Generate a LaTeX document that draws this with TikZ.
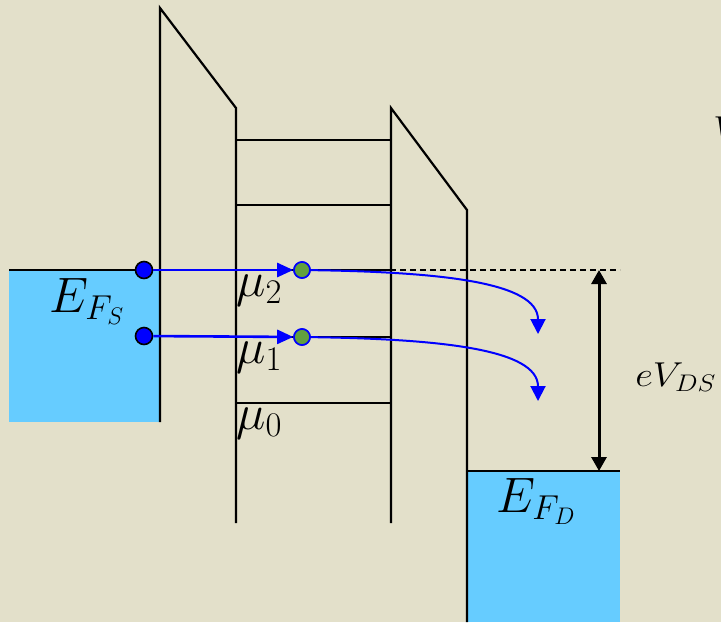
\documentclass[tikz,border=0pt]{standalone}
\usetikzlibrary{arrows.meta}
\definecolor{bgc}{RGB}{227,224,202}
\definecolor{resv}{RGB}{102,204,255}
\definecolor{dotgreen}{RGB}{98,160,62}
\begin{document}
\begin{tikzpicture}[x=0.5pt,y=-0.5pt,
  wall/.style={line width=1.1pt, black, line join=miter},
  level/.style={line width=1.1pt, black},
  fermi/.style={black, line width=1.1pt, dashed, dash pattern=on 3pt off 2pt},
  electron/.style={circle, fill=blue, draw=black, line width=0.8pt, minimum size=8.5pt, inner sep=0pt},
  state/.style={circle, fill=dotgreen, draw=blue, line width=0.8pt, minimum size=8pt, inner sep=0pt},
  hop/.style={blue, line width=1.3pt, -{Triangle[length=8pt,width=7pt]}},
  leak/.style={blue, line width=1pt, -{Triangle[length=7.5pt,width=7.5pt]}},
  bias/.style={black, line width=1.5pt, {Triangle[length=7pt,width=7.5pt]}-{Triangle[length=7pt,width=7.5pt]}},
  lbl/.style={inner sep=0pt, anchor=base west, font=\fontsize{24}{28}\selectfont},
  slbl/.style={inner sep=0pt, anchor=base west, font=\fontsize{17.28}{20}\selectfont},
]
\useasboundingbox (0,0) rectangle (721,622);
\fill[bgc] (0,0) rectangle (721,622);
% reservoirs
\fill[resv] (9,270) rectangle (160,422);
\fill[resv] (467,471) rectangle (620,622);
\draw[level] (9,270) -- (144,270);
\draw[level] (467,471) -- (620,471);
% dashed Fermi level
\draw[fermi] (150,270) -- (620,270);
% barriers
\draw[wall] (160,422) -- (160,8) -- (236,108) -- (236,523);
\draw[wall] (391,523) -- (391,108) -- (467,210) -- (467,622);
% dot levels
\foreach \yy in {140,205,270,337,403} \draw[level] (236,\yy) -- (391,\yy);
% bias arrow
\coordinate (btop) at (599,270);
\coordinate (bbot) at (599,471);
\draw[bias] (btop) -- (bbot);
% labels
\node[lbl] (efs) at (49,312) {$E_{F_S}$};
\node[lbl] (efd) at (496,512) {$E_{F_D}$};
\node[lbl] (mu2) at (236,296) {$\mu_2$};
\node[lbl] (mu1) at (236,363) {$\mu_1$};
\node[lbl] (mu0) at (236,429) {$\mu_0$};
\node[slbl] (evds) at (635,386) {\scalebox{1.12}[1]{$eV_{DS}$}};
\node[slbl] (vg) at (713,140) {\scalebox{1.12}[1]{$V$}};
% electrons and states
\node[electron] (s2) at (144,270) {};
\node[electron] (s1) at (144,336) {};
\node[state] (d2) at (302,270) {};
\node[state] (d1) at (302,337) {};
\coordinate (e2) at (538,334);
\coordinate (e1) at (538,401);
\draw[hop] (s2) -- (d2);
\draw[hop] (s1) -- (d1);
\draw[leak] (d2) .. controls (440,272) and (538,282) .. (e2);
\draw[leak] (d1) .. controls (440,339) and (538,349) .. (e1);
\node[state] at (d2) {};
\node[state] at (d1) {};
\end{tikzpicture}
\end{document}
